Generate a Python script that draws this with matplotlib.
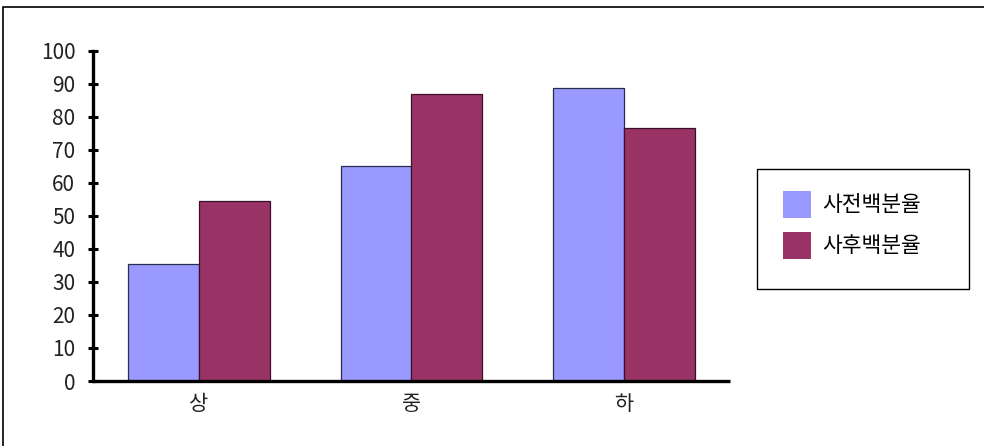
# 사전/사후 백분율 막대 그래프

import matplotlib.pyplot as plt
import numpy as np
from matplotlib.patches import Rectangle

plt.rcParams['font.family'] = ['Noto Sans CJK KR', 'DejaVu Sans']

# 데이터
categories = ['상', '중', '하']
series_names = ['사전백분율', '사후백분율']
before_pct = [35.3, 65.0, 88.6]
after_pct = [54.4, 86.8, 76.7]
y_ticks = [0, 10, 20, 30, 40, 50, 60, 70, 80, 90, 100]

W, H = 984, 446
fig = plt.figure(figsize=(W / 100, H / 100), dpi=100)
ax = fig.add_axes([92.7 / W, 1 - 381 / H, (730 - 92.7) / W, (381 - 50.7) / H])

x = np.arange(len(categories))
width = 1 / 3
ax.bar(x - width / 2, before_pct, width, color='#9999FF', edgecolor='#2b2b4a',
       linewidth=0.9, label=series_names[0])
ax.bar(x + width / 2, after_pct, width, color='#993366', edgecolor='#3a1028',
       linewidth=0.9, label=series_names[1])

ax.set_xlim(-0.5, 2.5)
ax.set_ylim(0, 100)
ax.set_xticks(x)
ax.set_xticklabels(categories, fontsize=15, color='#222222')
ax.set_yticks(y_ticks)
ax.set_yticklabels([str(v) for v in y_ticks], fontsize=15, color='#222222')

for s in ['top', 'right']:
    ax.spines[s].set_visible(False)
ax.spines['left'].set_linewidth(2.4)
ax.spines['bottom'].set_linewidth(2.4)
ax.spines['bottom'].set_capstyle('butt')
ax.tick_params(axis='y', direction='inout', length=7, width=2.2, pad=9)
ax.tick_params(axis='x', length=0, pad=9)

# 바깥 테두리
fig.patches.append(Rectangle((3 / W, -0.1), 1.2, 1.1 - 7 / H, transform=fig.transFigure,
                             fill=False, edgecolor='black', linewidth=1.2, clip_on=False))

# 범례 상자
fig.patches.append(Rectangle((756.7 / W, 1 - 288.7 / H), (969.3 - 756.7) / W,
                             (288.7 - 169.3) / H, transform=fig.transFigure,
                             fill=False, edgecolor='black', linewidth=1.0))
leg = fig.legend(loc='upper left', bbox_to_anchor=(772 / W, 1 - 180 / H),
                 frameon=False, fontsize=15.5, handlelength=1.3, handleheight=1.55,
                 handletextpad=0.55, labelspacing=0.65, borderpad=0)
for p in leg.get_patches():
    p.set_edgecolor('none')

fig.savefig('out.png', dpi=100)
